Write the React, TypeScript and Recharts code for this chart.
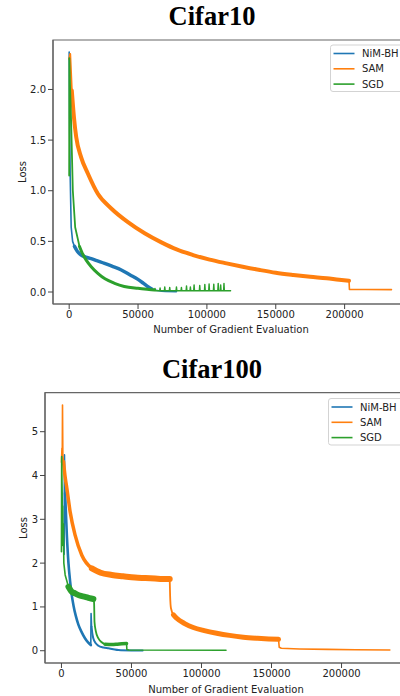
import React from 'react';
import { ComposedChart, Line, XAxis, YAxis, ReferenceArea } from 'recharts';

type P = [number, number];

const seriesNames = ['NiM-BH', 'SAM', 'SGD'];
const seriesColors = ['#1f77b4', '#ff7f0e', '#2ca02c'];
const titles = ['Cifar10', 'Cifar100'];
const xLabel = 'Number of Gradient Evaluation';
const yLabel = 'Loss';
const xTicks = [0, 50000, 100000, 150000, 200000];
const xDomain: P = [-11750, 246750];
const yTicksC10 = [0, 0.5, 1.0, 1.5, 2.0];
const yDomainC10: P = [-0.1185, 2.4885];
const yTicksC100 = [0, 1, 2, 3, 4, 5];
const yDomainC100: P = [-0.28, 5.89];

// ---------- Cifar10 ----------
const nimC10Head: P[] = [[0, 2.37], [350, 1.6], [700, 1.17], [1450, 0.64], [2500, 0.5], [3850, 0.45]];
const nimC10Body: P[] = [[3850, 0.45], [6000, 0.4], [8700, 0.365], [12000, 0.345], [16000, 0.33], [20000, 0.31], [25700, 0.283], [31000, 0.255], [37850, 0.217], [44000, 0.17], [49950, 0.125], [54000, 0.085], [57200, 0.052], [60000, 0.03]];
const nimC10Tail: P[] = [[60000, 0.03], [65000, 0.012], [70000, 0.006], [77900, 0.004]];

const samC10Head: P[] = [[0, 2.3], [730, 2.35], [1900, 1.99]];
const samC10Body: P[] = [[1900, 1.99], [3500, 1.72], [5100, 1.53], [8700, 1.33], [13550, 1.17], [20800, 0.97], [30550, 0.825], [42650, 0.69], [54800, 0.58], [66950, 0.49], [78000, 0.42], [89950, 0.365], [102000, 0.32], [114250, 0.283], [126000, 0.25], [138500, 0.217], [150000, 0.19], [162750, 0.168], [175000, 0.15], [187000, 0.135], [196000, 0.12], [203200, 0.11]];
const samC10Tail: P[] = [[203200, 0.11], [203500, 0.026], [215000, 0.024], [234000, 0.023]];

const sgdC10Head: P[] = [[0, 1.15], [100, 2.31], [700, 2.0], [1450, 1.66], [2650, 1.0], [4350, 0.64], [7500, 0.45]];
const sgdC10Body: P[] = [[7500, 0.45], [10000, 0.37], [12350, 0.315], [16000, 0.25], [20800, 0.184], [26000, 0.13], [32950, 0.086], [40000, 0.055], [49950, 0.036], [58000, 0.025], [62000, 0.02]];
const sgdC10Tail: P[] = [
  [62000, 0.02], [62300, 0.035], [62600, 0.013], [65700, 0.013], [66000, 0.04], [66300, 0.013],
  [69100, 0.013], [69400, 0.05], [69700, 0.013], [72700, 0.013], [73000, 0.045], [73300, 0.013],
  [77600, 0.013], [77900, 0.05], [78200, 0.013], [81200, 0.013], [81500, 0.045], [81800, 0.013],
  [84900, 0.013], [85200, 0.06], [85500, 0.013], [87700, 0.013], [88000, 0.05], [88300, 0.013],
  [90400, 0.013], [90700, 0.07], [91000, 0.013], [94500, 0.013], [94800, 0.065], [95100, 0.013],
  [98200, 0.013], [98500, 0.075], [98800, 0.013], [101300, 0.013], [101600, 0.08], [101900, 0.013],
  [104700, 0.013], [105000, 0.078], [105300, 0.013], [107900, 0.013], [108200, 0.085], [108500, 0.013],
  [109700, 0.013], [110000, 0.07], [110300, 0.013], [112100, 0.013], [112400, 0.085], [112700, 0.013],
  [117200, 0.012],
];

// ---------- Cifar100 ----------
const nimC100Head: P[] = [[1900, 2.2], [2150, 4.47], [2600, 3.6]];
const nimC100Body: P[] = [[2600, 3.6], [3850, 2.64], [5000, 2.0], [6200, 1.58], [7300, 1.28], [8550, 1.04], [10200, 0.8], [12150, 0.59], [14500, 0.42], [16900, 0.28], [19000, 0.19], [20950, 0.13]];
const nimC100Spike: P[] = [[20950, 0.13], [21150, 0.85], [21500, 0.55]];
const nimC100Tail: P[] = [[21500, 0.55], [22000, 0.4], [22800, 0.28], [24500, 0.17], [26400, 0.114], [30000, 0.075], [33550, 0.055], [37000, 0.035], [40650, 0.016], [50000, 0.006], [58000, 0.004]];

const samC100Head: P[] = [[0, 4.3], [350, 4.62], [550, 4.35], [750, 5.61], [1000, 4.45], [1450, 4.32]];
const samC100Decay: P[] = [[1450, 4.32], [2500, 4.0], [3850, 3.71], [6200, 3.17], [9750, 2.64], [14550, 2.18], [21700, 1.88]];
const samC100Plateau: P[] = [[21700, 1.88], [28000, 1.78], [35950, 1.73], [44000, 1.7], [52550, 1.67], [60000, 1.66], [66850, 1.65], [72000, 1.64], [77300, 1.64]];
const samC100Drop: P[] = [[77300, 1.64], [77600, 1.25], [78200, 0.97], [80000, 0.82]];
const samC100Second: P[] = [[80000, 0.82], [82300, 0.74], [88000, 0.62], [94150, 0.53], [102000, 0.46], [110850, 0.4], [120000, 0.35], [129850, 0.31], [140000, 0.285], [148000, 0.27], [155000, 0.26]];
const samC100Tail: P[] = [[155000, 0.26], [155500, 0.08], [157000, 0.055], [170000, 0.04], [190000, 0.03], [210000, 0.022], [234500, 0.016]];

const sgdC100Head: P[] = [[0, 2.26], [150, 4.43], [500, 3.6], [700, 2.5], [900, 3.3], [1100, 2.4], [1400, 2.9], [1700, 2.0], [2650, 1.73], [5000, 1.46]];
const sgdC100Plateau: P[] = [[5000, 1.46], [7000, 1.36], [9750, 1.31], [13000, 1.26], [16900, 1.23], [20000, 1.2], [22800, 1.18]];
const sgdC100Drop: P[] = [[22800, 1.18], [23300, 1.1], [23600, 0.66], [24500, 0.45], [26400, 0.28], [28500, 0.2], [31200, 0.146]];
const sgdC100Shelf: P[] = [[31200, 0.146], [36000, 0.14], [40000, 0.15], [43100, 0.16], [46500, 0.165]];
const sgdC100Tail: P[] = [[46500, 0.165], [46700, 0.03], [48000, 0.016], [117500, 0.012]];

const pts = (a: P[]) => a.map(([x, y]) => ({ x, y }));

const FONT = "'DejaVu Sans', sans-serif";
const FRAME = '#666';

type Seg = { data: P[]; color: string; w: number; smooth?: boolean };

function Panel(props: {
  top: number; height: number; marginTop: number; yWidth: number; right: number;
  yDomain: P; yTicks: number[]; fmt: (v: number) => string; segs: Seg[];
}) {
  const { top, height, marginTop, yWidth, right, yDomain, yTicks, fmt, segs } = props;
  return (
    <div style={{ position: 'absolute', left: 0, top }}>
      <ComposedChart width={420} height={height} margin={{ top: marginTop, right, bottom: 0, left: 0 }}>
        <XAxis
          type="number" dataKey="x" domain={xDomain} ticks={xTicks} allowDataOverflow interval={0}
          height={41} tickSize={5} tickMargin={2}
          axisLine={{ stroke: FRAME, strokeWidth: 1.2 }} tickLine={{ stroke: '#444' }}
          tick={{ fill: '#222', fontSize: 10, fontFamily: FONT }}
        />
        <YAxis
          type="number" domain={yDomain} ticks={yTicks} allowDataOverflow interval={0}
          width={yWidth} tickSize={5} tickMargin={2} tickFormatter={fmt}
          axisLine={{ stroke: FRAME, strokeWidth: 1.2 }} tickLine={{ stroke: '#444' }}
          tick={{ fill: '#222', fontSize: 10, fontFamily: FONT }}
        />
        <ReferenceArea x1={xDomain[0]} x2={xDomain[1]} y1={yDomain[0]} y2={yDomain[1]}
          fill="none" fillOpacity={0} stroke={FRAME} strokeWidth={1.2} ifOverflow="visible" />
        {segs.map((s, i) => (
          <Line key={i} data={pts(s.data)} dataKey="y" type={s.smooth ? 'monotoneX' : 'linear'} dot={false} activeDot={false}
            stroke={s.color} strokeWidth={s.w} strokeLinejoin="round" strokeLinecap="round"
            isAnimationActive={false} />
        ))}
      </ComposedChart>
    </div>
  );
}

function LegendBox({ x, y }: { x: number; y: number }) {
  return (
    <g>
      <rect x={x} y={y} width={80} height={46.5} rx={2.5} fill="#fff" fillOpacity={0.8} stroke="#d3d3d3" strokeWidth={1} />
      {seriesNames.map((n, i) => (
        <g key={n}>
          <line x1={x + 3} x2={x + 24} y1={y + 8.5 + i * 15.3} y2={y + 8.5 + i * 15.3} stroke={seriesColors[i]} strokeWidth={1.6} />
          <text x={x + 31.5} y={y + 8.5 + i * 15.3} dominantBaseline="central" fontSize={10} fontFamily={FONT} fill="#222">{n}</text>
        </g>
      ))}
    </g>
  );
}

export default function App() {
  const [B, O, G] = seriesColors;
  const segsC10: Seg[] = [
    { data: nimC10Head, color: B, w: 1.6 },
    { data: nimC10Body, color: B, w: 3.5, smooth: true },
    { data: nimC10Tail, color: B, w: 1.6, smooth: true },
    { data: samC10Head, color: O, w: 2 },
    { data: samC10Body, color: O, w: 4, smooth: true },
    { data: samC10Tail, color: O, w: 1.6 },
    { data: sgdC10Head, color: G, w: 1.8 },
    { data: sgdC10Body, color: G, w: 3, smooth: true },
    { data: sgdC10Tail, color: G, w: 1.4 },
  ];
  const segsC100: Seg[] = [
    { data: nimC100Head, color: B, w: 1.6 },
    { data: nimC100Body, color: B, w: 2.6, smooth: true },
    { data: nimC100Spike, color: B, w: 1.6 },
    { data: nimC100Tail, color: B, w: 2, smooth: true },
    { data: samC100Head, color: O, w: 1.6 },
    { data: samC100Decay, color: O, w: 3.5, smooth: true },
    { data: samC100Plateau, color: O, w: 6, smooth: true },
    { data: samC100Drop, color: O, w: 1.8, smooth: true },
    { data: samC100Second, color: O, w: 5, smooth: true },
    { data: samC100Tail, color: O, w: 1.6 },
    { data: sgdC100Head, color: G, w: 1.6 },
    { data: sgdC100Plateau, color: G, w: 6, smooth: true },
    { data: sgdC100Drop, color: G, w: 1.8, smooth: true },
    { data: sgdC100Shelf, color: G, w: 3.5, smooth: true },
    { data: sgdC100Tail, color: G, w: 1.6 },
  ];
  return (
    <div style={{ position: 'absolute', left: 0, top: 0, width: 400, height: 696, overflow: 'hidden', background: '#fff' }}>
      <Panel top={0} height={345} marginTop={40} yWidth={53} right={11}
        yDomain={yDomainC10} yTicks={yTicksC10} fmt={(v) => v.toFixed(1)} segs={segsC10} />
      <Panel top={350} height={354} marginTop={42.7} yWidth={45} right={13}
        yDomain={yDomainC100} yTicks={yTicksC100} fmt={(v) => String(v)} segs={segsC100} />
      <svg width={400} height={696} style={{ position: 'absolute', left: 0, top: 0, pointerEvents: 'none' }}>
        <text x={212} y={25} textAnchor="middle" fontSize={26.5} fontWeight="bold" fontFamily="'Liberation Serif', serif" fill="#000">{titles[0]}</text>
        <text x={212} y={378.3} textAnchor="middle" fontSize={26.5} fontWeight="bold" fontFamily="'Liberation Serif', serif" fill="#000">{titles[1]}</text>
        <text x={231} y={332.5} textAnchor="middle" fontSize={10} fontFamily={FONT} fill="#222">{xLabel}</text>
        <text x={226} y={692.5} textAnchor="middle" fontSize={10} fontFamily={FONT} fill="#222">{xLabel}</text>
        <text x={26} y={172} textAnchor="middle" fontSize={10} fontFamily={FONT} fill="#222" transform="rotate(-90 26 172)">{yLabel}</text>
        <text x={26.5} y={528} textAnchor="middle" fontSize={10} fontFamily={FONT} fill="#222" transform="rotate(-90 26.5 528)">{yLabel}</text>
        <LegendBox x={330.5} y={45} />
        <LegendBox x={328.5} y={398.5} />
      </svg>
    </div>
  );
}
